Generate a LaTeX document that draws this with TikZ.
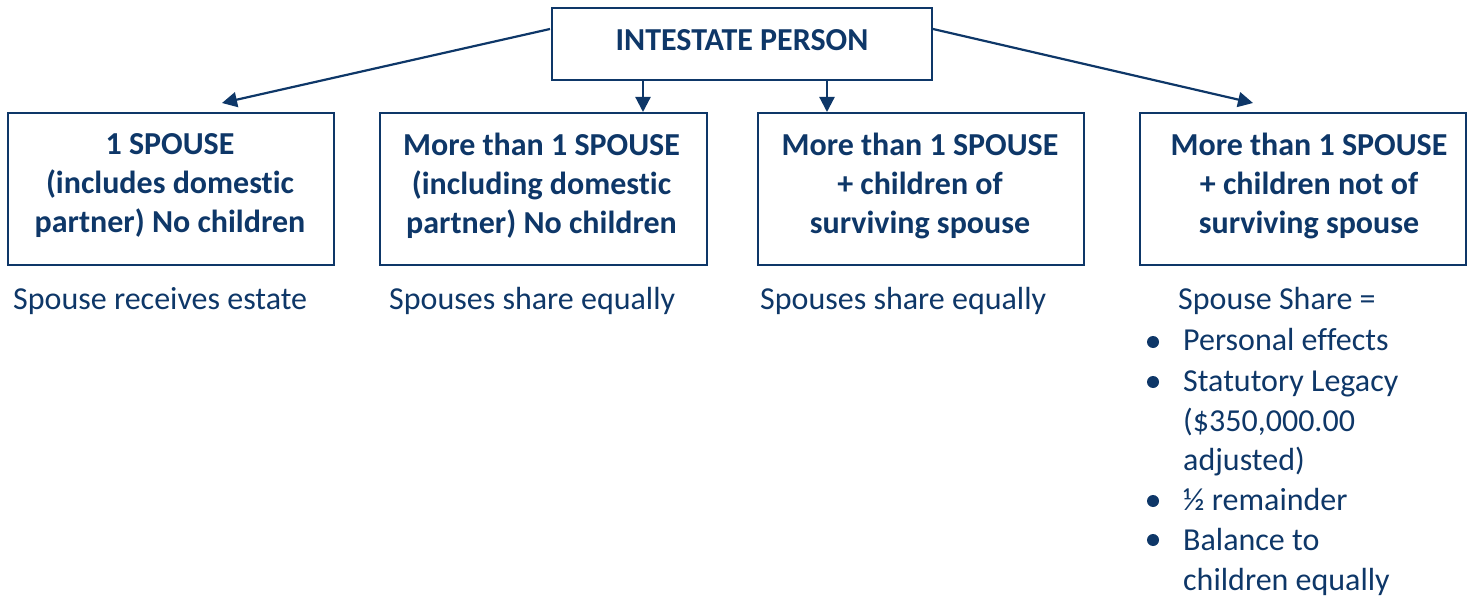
\documentclass[tikz,border=0pt]{standalone}
\usepackage{fontspec}
\setmainfont{Carlito}[Ligatures=NoCommon]
\usetikzlibrary{arrows.meta}
\definecolor{navy}{HTML}{0E3768}
\begin{document}
\begin{tikzpicture}[x=1pt,y=-1pt,
  box/.style={draw=navy,line width=2pt,inner sep=0pt},
  btxt/.style={text=navy,font=\fontsize{32}{39}\selectfont\bfseries,align=center,inner sep=0pt},
  arr/.style={draw=navy,line width=2.2pt,-{Triangle[length=15pt,width=15pt]}},
  lbl/.style={text=navy,font=\fontsize{32}{39}\selectfont,anchor=base west,inner sep=0pt},
  dot/.style={fill=navy,circle,inner sep=0pt,minimum size=12pt}]
\useasboundingbox (0,0) rectangle (1470,596);
\node[box,minimum width=380pt,minimum height=72pt] (top) at (742,44.5) {};
\node[box,minimum width=326pt,minimum height=152pt] (b1) at (171,189) {};
\node[box,minimum width=327pt,minimum height=152pt] (b2) at (543.5,189) {};
\node[box,minimum width=326pt,minimum height=152pt] (b3) at (921,189) {};
\node[box,minimum width=326pt,minimum height=152pt] (b4) at (1303,189) {};
\node[btxt] (topt) at ([yshift=4pt]top.center) {INTESTATE PERSON};
\node[btxt] (b1t) at ([xshift=-1pt,yshift=3pt]b1.center) {1 SPOUSE\\(includes domestic\\partner) No children};
\node[btxt] (b2t) at ([xshift=-2pt,yshift=3pt]b2.center) {More than 1 SPOUSE\\(including domestic\\partner) No children};
\node[btxt] (b3t) at ([xshift=-1pt,yshift=3pt]b3.center) {More than 1 SPOUSE\\+ children of\\surviving spouse};
\node[btxt] (b4t) at ([xshift=6pt,yshift=3pt]b4.center) {More than 1 SPOUSE\\+ children not of\\surviving spouse};
\coordinate (tl) at (550,29);
\coordinate (tr) at (933,29);
\coordinate (e1) at (222,103);
\coordinate (e4) at (1253,103);
\draw[arr] (tl) -- (e1);
\draw[arr] (tr) -- (e4);
\draw[arr] (top.south -| 643,0) -- (643,112);
\draw[arr] (top.south -| 827,0) -- (827,112);
\node[lbl] (t1) at (13,309) {Spouse receives estate};
\node[lbl] (t2) at (389,309) {Spouses share equally};
\node[lbl] (t3) at (760,309) {Spouses share equally};
\node[lbl] (s0) at (1178,309) {Spouse Share =};
\node[lbl] (s1) at (1183,350) {Personal effects};
\node[lbl] (s2) at (1183,391) {Statutory Legacy};
\node[lbl] (s3) at (1183,431) {(\$350,000.00};
\node[lbl] (s4) at (1183,470) {adjusted)};
\node[lbl] (s5) at (1183,510) {½ remainder};
\node[lbl] (s6) at (1183,550) {Balance to};
\node[lbl] (s7) at (1183,590) {children equally};
\node[dot] (d1) at (1153,342) {};
\node[dot] (d2) at (1153,382) {};
\node[dot] (d3) at (1153,501) {};
\node[dot] (d4) at (1153,540) {};
\end{tikzpicture}
\end{document}
